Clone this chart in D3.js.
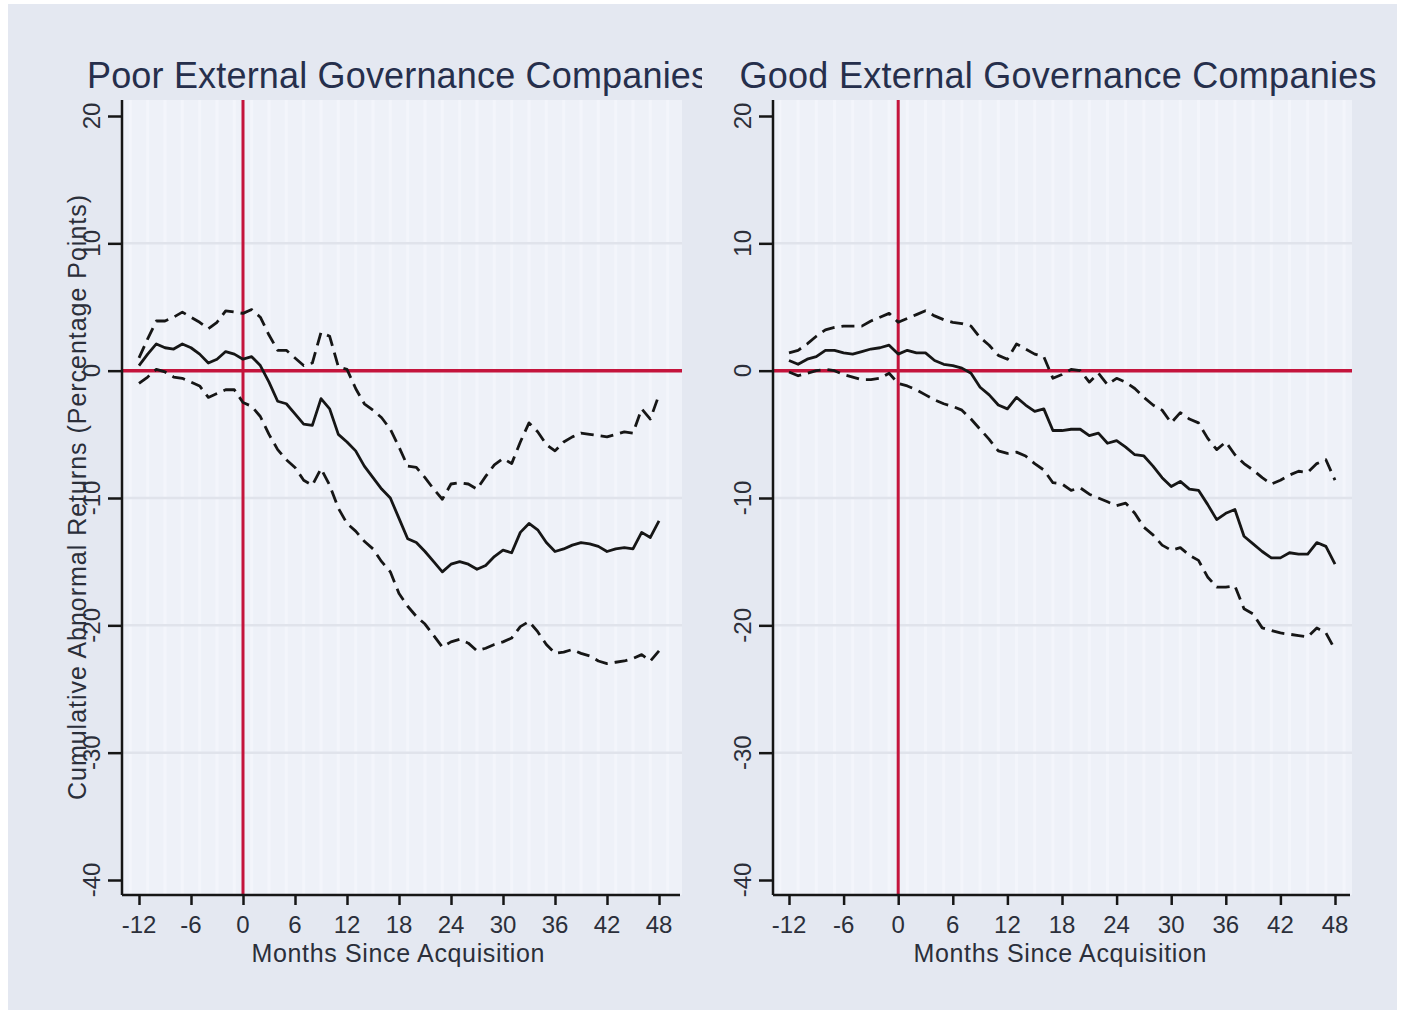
<!DOCTYPE html>
<html lang="en">
<head>
<meta charset="UTF-8">
<title>Cumulative Abnormal Returns</title>
<script src="https://cdnjs.cloudflare.com/ajax/libs/d3/7.8.5/d3.min.js"></script>
<style>
  body { margin: 0; background: #ffffff; }
  svg { display: block; font-family: "Liberation Sans", Arial, sans-serif; }
  .tick-label { font-size: 24px; fill: #2b2f3a; }
  .axis-title { font-size: 25px; fill: #2b2f3a; }
  .panel-title { font-size: 36px; fill: #262f4c; }
</style>
</head>
<body>
<script>
// months since acquisition, -12 .. 48
var months = d3.range(-12, 49);
var xTicks = [-12, -6, 0, 6, 12, 18, 24, 30, 36, 42, 48];
var yTicks = [20, 10, 0, -10, -20, -30, -40];
var panelTitles = ["Poor External Governance Companies", "Good External Governance Companies"];

// poor external governance: mean CAR and confidence band
var poorMean = [0.4, 1.3, 2.1, 1.8, 1.7, 2.1, 1.8, 1.3, 0.6, 0.9, 1.5, 1.3,
  0.9, 1.1, 0.4, -0.9, -2.4, -2.6, -3.4, -4.2, -4.3, -2.2, -3.0, -5.0,
  -5.6, -6.3, -7.5, -8.4, -9.3, -10.0, -11.6, -13.2, -13.5, -14.2, -15.0, -15.8,
  -15.2, -15.0, -15.2, -15.6, -15.3, -14.6, -14.1, -14.3, -12.7, -12.0, -12.5, -13.5,
  -14.2, -14.0, -13.7, -13.5, -13.6, -13.8, -14.2, -14.0, -13.9, -14.0, -12.7, -13.1, -11.8];
var poorUpper = [1.0, 2.5, 3.9, 3.9, 4.2, 4.6, 4.2, 3.8, 3.3, 3.8, 4.7, 4.6,
  4.5, 4.8, 4.2, 2.8, 1.6, 1.6, 1.0, 0.4, 0.6, 3.0, 2.7, 0.3,
  0.1, -1.4, -2.6, -3.1, -3.7, -4.6, -6.0, -7.5, -7.6, -8.4, -9.3, -10.1,
  -8.9, -8.8, -8.9, -9.3, -8.3, -7.4, -6.9, -7.3, -5.6, -4.1, -4.8, -5.8,
  -6.3, -5.6, -5.2, -4.9, -5.0, -5.1, -5.2, -5.0, -4.8, -4.9, -3.0, -3.8, -1.9];
var poorLower = [-1.0, -0.5, 0.1, -0.1, -0.5, -0.6, -0.9, -1.2, -2.1, -1.8, -1.5, -1.5,
  -2.5, -2.8, -3.6, -5.0, -6.2, -7.0, -7.6, -8.6, -9.0, -7.7, -9.0, -10.8,
  -12.0, -12.6, -13.4, -14.0, -15.0, -15.8, -17.5, -18.5, -19.3, -19.9, -20.8, -21.7,
  -21.3, -21.1, -21.4, -22.0, -21.8, -21.5, -21.3, -21.0, -20.1, -19.7, -20.5, -21.5,
  -22.2, -22.1, -21.9, -22.2, -22.4, -22.8, -23.0, -22.9, -22.8, -22.6, -22.3, -22.8, -22.0];

// good external governance
var goodMean = [0.8, 0.5, 0.9, 1.1, 1.6, 1.6, 1.4, 1.3, 1.5, 1.7, 1.8, 2.0,
  1.3, 1.6, 1.4, 1.4, 0.8, 0.5, 0.4, 0.2, -0.2, -1.3, -1.9, -2.7,
  -3.0, -2.1, -2.7, -3.2, -3.0, -4.7, -4.7, -4.6, -4.6, -5.1, -4.9, -5.7,
  -5.5, -6.0, -6.6, -6.7, -7.5, -8.4, -9.1, -8.7, -9.3, -9.4, -10.5, -11.7,
  -11.2, -10.9, -13.0, -13.6, -14.2, -14.7, -14.7, -14.3, -14.4, -14.4, -13.5, -13.8, -15.2];
var goodUpper = [1.4, 1.6, 2.1, 2.7, 3.2, 3.4, 3.5, 3.5, 3.5, 3.9, 4.2, 4.5,
  3.8, 4.1, 4.4, 4.7, 4.3, 4.0, 3.8, 3.7, 3.5, 2.6, 2.0, 1.2,
  0.9, 2.1, 1.7, 1.3, 1.1, -0.6, -0.3, 0.1, 0.0, -0.9, -0.2, -1.1,
  -0.6, -0.9, -1.4, -2.1, -2.7, -3.1, -4.1, -3.3, -3.8, -4.1, -5.3, -6.2,
  -5.6, -6.6, -7.3, -7.8, -8.4, -8.9, -8.6, -8.2, -7.9, -8.0, -7.3, -7.0, -8.6];
var goodLower = [-0.1, -0.4, -0.2, 0.0, 0.1, 0.0, -0.3, -0.5, -0.7, -0.7, -0.6, -0.2,
  -1.0, -1.2, -1.5, -1.9, -2.3, -2.6, -2.8, -3.1, -3.8, -4.6, -5.4, -6.3,
  -6.5, -6.4, -6.7, -7.3, -7.8, -8.8, -8.9, -9.4, -9.2, -9.7, -10.0, -10.3,
  -10.6, -10.4, -11.2, -12.3, -12.9, -13.7, -14.1, -13.9, -14.5, -14.9, -16.2, -17.0,
  -17.0, -16.9, -18.7, -19.1, -20.2, -20.4, -20.6, -20.7, -20.8, -20.9, -20.2, -20.6, -21.9];

var W = 1402, H = 1014;

var svg = d3.select('body').append('svg')
  .attr('width', W).attr('height', H);

// graph region
svg.append('rect')
  .attr('x', 8).attr('y', 4).attr('width', 1389).attr('height', 1006)
  .attr('fill', '#e4e8f1');

var panels = [
  { title: panelTitles[0], mean: poorMean, upper: poorUpper, lower: poorLower,
    left: 122, right: 682, x0: 139, x1: 659, clipL: 8, clipR: 702,
    titleX: 398, titleLen: 622, xtitleX: 398, ytitle: true },
  { title: panelTitles[1], mean: goodMean, upper: goodUpper, lower: goodLower,
    left: 773, right: 1352, x0: 789, x1: 1335, clipL: 702, clipR: 1397,
    titleX: 1058, titleLen: 637, xtitleX: 1060, ytitle: false }
];

var plotTop = 100, plotBottom = 895;
var yScale = d3.scaleLinear().domain([20, -40]).range([116, 880]);

panels.forEach(function(p, i) {
  var g = svg.append('g');
  var x = d3.scaleLinear().domain([-12, 48]).range([p.x0, p.x1]);

  // plot region
  g.append('rect')
    .attr('x', p.left).attr('y', plotTop)
    .attr('width', p.right - p.left).attr('height', plotBottom - plotTop)
    .attr('fill', '#eef1f8');

  // faint vertical stripes
  g.selectAll('.stripe').data(d3.range(-13, 50, 2)).enter().append('line')
    .attr('x1', d => x(d)).attr('x2', d => x(d))
    .attr('y1', plotTop).attr('y2', plotBottom)
    .attr('stroke', '#f3f5fb').attr('stroke-width', 3)
    .attr('opacity', d => (x(d) > p.left + 2 && x(d) < p.right - 2) ? 1 : 0);

  // horizontal grid
  g.selectAll('.grid').data([10, -10, -20, -30]).enter().append('line')
    .attr('x1', p.left).attr('x2', p.right)
    .attr('y1', d => yScale(d)).attr('y2', d => yScale(d))
    .attr('stroke', '#e0e3eb').attr('stroke-width', 2.5);

  // reference lines at 0
  g.append('line')
    .attr('x1', x(0)).attr('x2', x(0)).attr('y1', plotTop).attr('y2', plotBottom)
    .attr('stroke', '#c4143c').attr('stroke-width', 3);
  g.append('line')
    .attr('x1', p.left).attr('x2', p.right).attr('y1', yScale(0)).attr('y2', yScale(0))
    .attr('stroke', '#c4143c').attr('stroke-width', 3.5);

  var line = d3.line()
    .x((d, j) => x(months[j]))
    .y(d => yScale(d));

  [p.upper, p.lower].forEach(function(s) {
    g.append('path').datum(s)
      .attr('d', line)
      .attr('fill', 'none').attr('stroke', '#161616')
      .attr('stroke-width', 2.8).attr('stroke-dasharray', '13,7')
      .attr('stroke-linejoin', 'round');
  });
  g.append('path').datum(p.mean)
    .attr('d', line)
    .attr('fill', 'none').attr('stroke', '#161616')
    .attr('stroke-width', 2.8).attr('stroke-linejoin', 'round');

  // axes
  var yAxis = d3.axisLeft(yScale).tickValues(yTicks).tickSize(14).tickFormat('');
  g.append('g').attr('transform', 'translate(' + p.left + ',0)').call(yAxis)
    .call(a => a.select('.domain').attr('d', 'M0,' + plotTop + 'V' + plotBottom))
    .selectAll('line, path').attr('stroke', '#161616').attr('stroke-width', 2.5);

  var xAxis = d3.axisBottom(x).tickValues(xTicks).tickSize(10).tickFormat('');
  g.append('g').attr('transform', 'translate(0,' + plotBottom + ')').call(xAxis)
    .call(a => a.select('.domain').attr('d', 'M' + p.left + ',0H' + (p.right - 2)))
    .selectAll('line, path').attr('stroke', '#161616').attr('stroke-width', 2.5);

  // tick labels
  g.selectAll('.ylab').data(yTicks).enter().append('text')
    .attr('class', 'tick-label')
    .attr('transform', d => 'translate(' + (p.left - 22) + ',' + yScale(d) + ') rotate(-90)')
    .attr('text-anchor', 'middle')
    .text(d => d);

  g.selectAll('.xlab').data(xTicks).enter().append('text')
    .attr('class', 'tick-label')
    .attr('x', d => x(d)).attr('y', 933)
    .attr('text-anchor', 'middle')
    .text(d => d);

  g.append('text').attr('class', 'axis-title')
    .attr('x', p.xtitleX).attr('y', 962)
    .attr('text-anchor', 'middle')
    .attr('textLength', 293).attr('lengthAdjust', 'spacing')
    .text('Months Since Acquisition');

  if (p.ytitle) {
    g.append('text').attr('class', 'axis-title')
      .attr('transform', 'translate(86,' + ((plotTop + plotBottom) / 2) + ') rotate(-90)')
      .attr('text-anchor', 'middle')
      .attr('textLength', 605).attr('lengthAdjust', 'spacing')
      .text('Cumulative Abnormal Returns (Percentage Points)');
  }

  // title, clipped to its own graph region
  svg.append('clipPath').attr('id', 'clip' + i)
    .append('rect').attr('x', p.clipL).attr('y', 0)
    .attr('width', p.clipR - p.clipL).attr('height', 120);
  svg.append('text').attr('class', 'panel-title')
    .attr('clip-path', 'url(#clip' + i + ')')
    .attr('x', p.titleX).attr('y', 88)
    .attr('text-anchor', 'middle')
    .attr('textLength', p.titleLen).attr('lengthAdjust', 'spacing')
    .text(p.title);
});
</script>
</body>
</html>
